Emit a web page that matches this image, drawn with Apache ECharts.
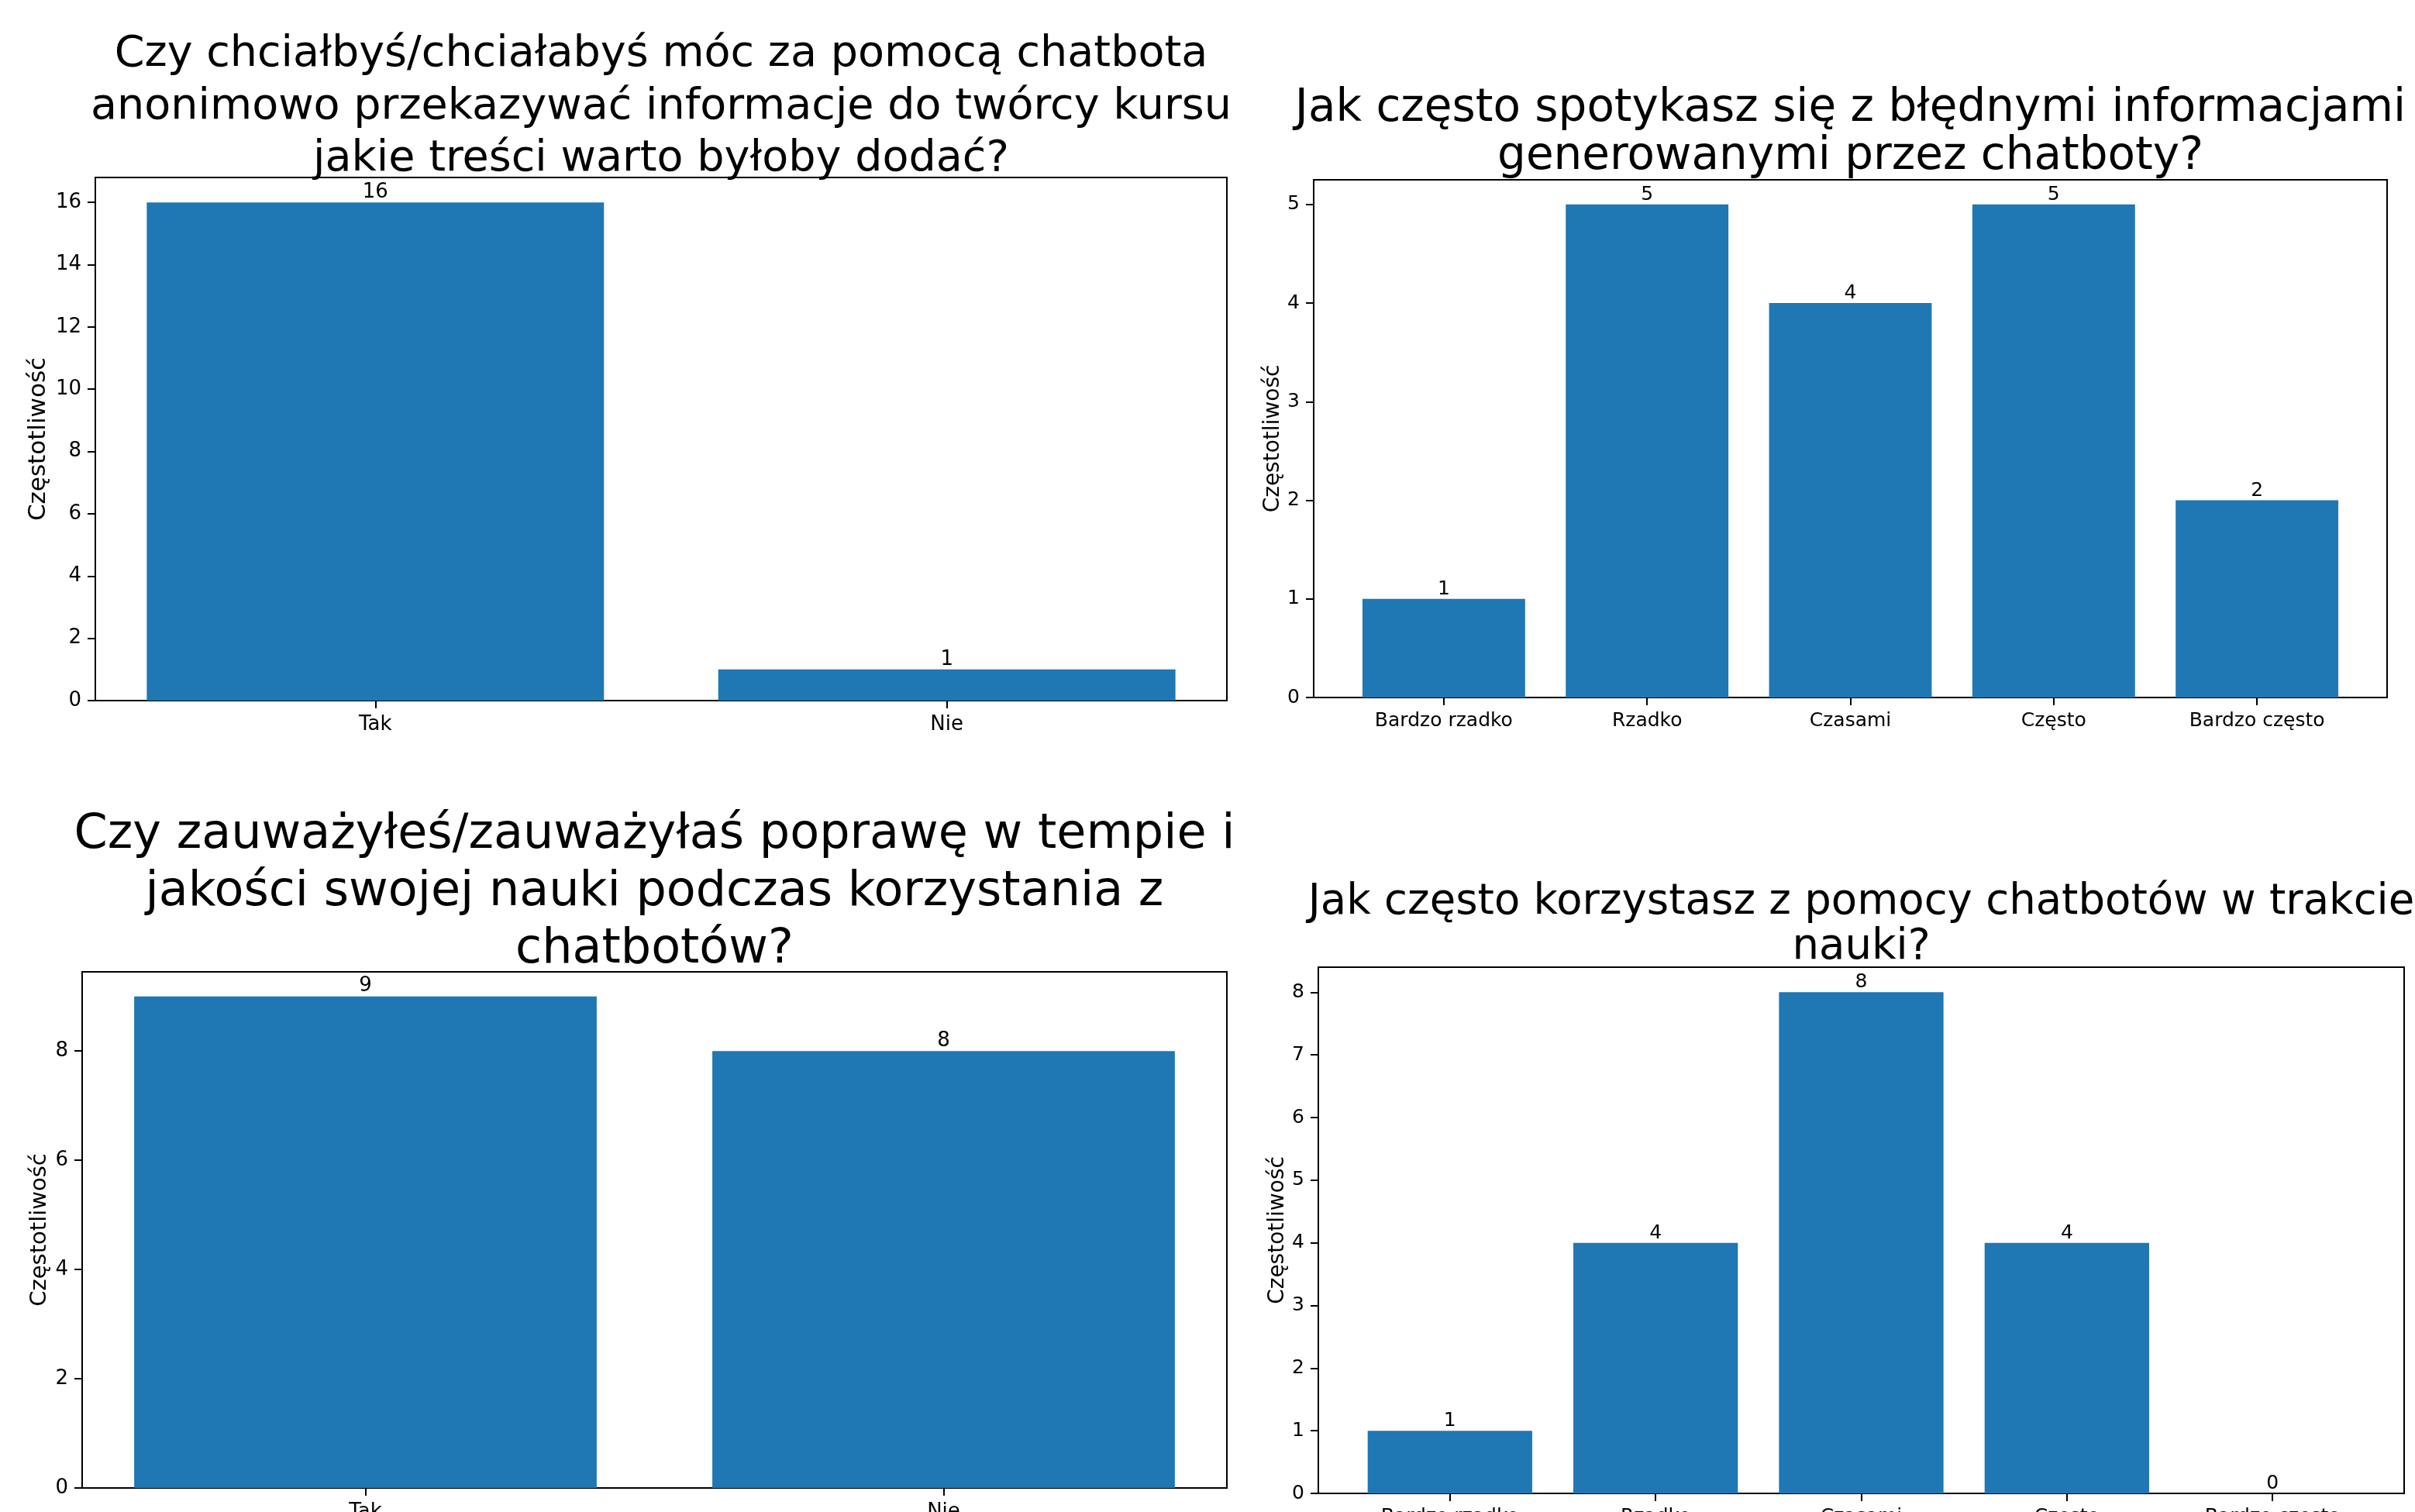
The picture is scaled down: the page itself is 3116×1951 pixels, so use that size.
<!DOCTYPE html>
<html>
<head>
<meta charset="utf-8">
<script src="https://cdn.jsdelivr.net/npm/echarts@6/dist/echarts.min.js"></script>
<style>
html,body{margin:0;padding:0;background:#fff;overflow:hidden;}
#c{width:3116px;height:1951px;}
</style>
</head>
<body>
<div id="c"></div>
<script>
// ---- data ----
const title1 = 'Czy chciałbyś/chciałabyś móc za pomocą chatbota\nanonimowo przekazywać informacje do twórcy kursu\njakie treści warto byłoby dodać?';
const cats1 = ['Tak', 'Nie'];
const vals1 = [16, 1];
const yTicks1 = [0, 2, 4, 6, 8, 10, 12, 14, 16];

const title2 = 'Jak często spotykasz się z błędnymi informacjami\ngenerowanymi przez chatboty?';
const cats2 = ['Bardzo rzadko', 'Rzadko', 'Czasami', 'Często', 'Bardzo często'];
const vals2 = [1, 5, 4, 5, 2];
const yTicks2 = [0, 1, 2, 3, 4, 5];

const title3 = 'Czy zauważyłeś/zauważyłaś poprawę w tempie i\njakości swojej nauki podczas korzystania z\nchatbotów?';
const cats3 = ['Tak', 'Nie'];
const vals3 = [9, 8];
const yTicks3 = [0, 2, 4, 6, 8];

const title4 = 'Jak często korzystasz z pomocy chatbotów w trakcie\nnauki?';
const cats4 = ['Bardzo rzadko', 'Rzadko', 'Czasami', 'Często', 'Bardzo często'];
const vals4 = [1, 4, 8, 4, 0];
const yTicks4 = [0, 1, 2, 3, 4, 5, 6, 7, 8];

const yName = 'Częstotliwość';
const BLUE = '#1f77b4';
const FONT = 'DejaVu Sans';

// ---- panel layout (positions/styles only) ----
const panels = [
  {title: title1, cats: cats1, vals: vals1, ticks: yTicks1,
   grid: {left: 123, top: 229, width: 1460, height: 675},
   tFont: 55.6, tLine: 67.5, tX: 853, tY: 37, fs: 26, nameFs: 31, nameGap: 58},
  {title: title2, cats: cats2, vals: vals2, ticks: yTicks2,
   grid: {left: 1695, top: 232, width: 1385, height: 668},
   tFont: 58, tLine: 62, tX: 2387.5, tY: 110, fs: 25, nameFs: 28, nameGap: 37},
  {title: title3, cats: cats3, vals: vals3, ticks: yTicks3,
   grid: {left: 106, top: 1254, width: 1477, height: 666},
   tFont: 62, tLine: 74, tX: 844.5, tY: 1041, fs: 26, nameFs: 29, nameGap: 40},
  {title: title4, cats: cats4, vals: vals4, ticks: yTicks4,
   grid: {left: 1701, top: 1248, width: 1401, height: 679},
   tFont: 54.5, tLine: 58, tX: 2401.5, tY: 1136, fs: 25, nameFs: 28, nameGap: 37}
];

const grids = [], xAxes = [], yAxes = [], series = [], graphics = [];
panels.forEach((p, i) => {
  const n = p.cats.length;
  const span = (n - 1) + 0.8;
  const pad = 0.05 * span;
  const ytop = Math.max.apply(null, p.vals) * 1.05;
  grids.push(Object.assign({show: true, borderColor: '#000', borderWidth: 2, backgroundColor: 'transparent',
    containLabel: false, outerBoundsMode: 'none'}, p.grid));
  const xt = p.cats.map((c, k) => k);
  xAxes.push({
    type: 'value', gridIndex: i, min: -0.4 - pad, max: n - 1 + 0.4 + pad,
    axisLine: {show: false, onZero: false}, splitLine: {show: false},
    axisTick: {show: true, customValues: xt, length: 10, inside: false, lineStyle: {color: '#000', width: 2}},
    axisLabel: {customValues: xt, formatter: v => p.cats[Math.round(v)] || '', color: '#000', fontFamily: FONT, fontSize: p.fs, margin: 18}
  });
  yAxes.push({
    type: 'value', gridIndex: i, min: 0, max: ytop,
    name: yName, nameLocation: 'middle', nameGap: p.nameGap, nameRotate: 90,
    nameTextStyle: {color: '#000', fontFamily: FONT, fontSize: p.nameFs},
    axisLine: {show: false, onZero: false}, splitLine: {show: false},
    axisTick: {show: true, customValues: p.ticks, length: 10, lineStyle: {color: '#000', width: 2}},
    axisLabel: {customValues: p.ticks, color: '#000', fontFamily: FONT, fontSize: p.fs, margin: 18}
  });
  series.push({
    type: 'bar', xAxisIndex: i, yAxisIndex: i, barWidth: '80%',
    data: p.vals.map((v, k) => [k, v]),
    itemStyle: {color: BLUE},
    label: {show: true, position: 'top', distance: 0, color: '#000', fontFamily: FONT, fontSize: p.fs,
            formatter: d => String(d.value[1])},
    silent: true, animation: false
  });
  graphics.push({
    type: 'text', x: p.tX, y: p.tY, silent: true,
    style: {text: p.title, fill: '#000', fontFamily: FONT, fontSize: p.tFont, lineHeight: p.tLine,
            textAlign: 'center', textVerticalAlign: 'top'}
  });
});

const chart = echarts.init(document.getElementById('c'), null, {renderer: 'canvas'});
chart.setOption({
  animation: false,
  backgroundColor: '#fff',
  grid: grids, xAxis: xAxes, yAxis: yAxes, series: series,
  graphic: graphics
});
</script>
</body>
</html>
